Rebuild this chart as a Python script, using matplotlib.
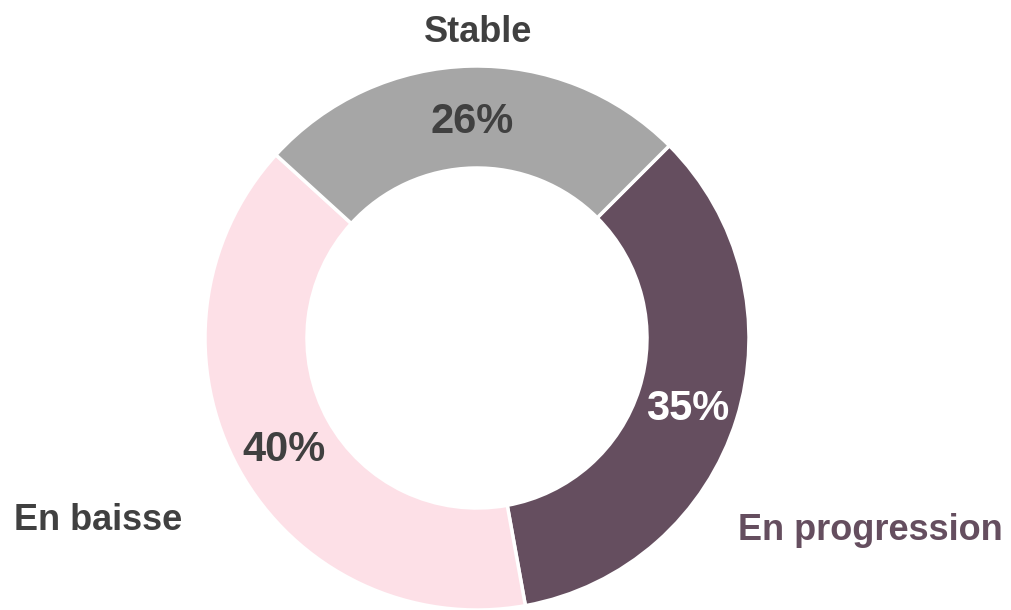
import matplotlib.pyplot as plt

# donut shares (rounded figures shown on the chart)
categories = ['En progression', 'En baisse', 'Stable']
values = [35, 40, 26]
pct_labels = ['35%', '40%', '26%']
colors = ['#654e5f', '#fde0e7', '#a6a6a6']
pct_colors = ['white', '#404040', '#404040']
name_colors = ['#654e5f', '#404040', '#404040']

plt.rcParams['font.family'] = ['Liberation Sans', 'DejaVu Sans']

fig = plt.figure(figsize=(10.12, 6.10), dpi=100)
ax = fig.add_axes([0, 0, 1, 1])

radius = 272
ring = 102
wedges, texts = ax.pie(values, labels=pct_labels, colors=colors,
                       startangle=45, counterclock=False,
                       center=(477, 272), radius=radius,
                       labeldistance=1 - ring / 2 / radius,
                       wedgeprops=dict(width=ring, edgecolor='white', linewidth=2.5))

for t, c in zip(texts, pct_colors):
    t.set_ha('center')
    t.set_va('center_baseline')
    t.set_color(c)
    t.set_fontsize(30)
    t.set_fontweight('bold')

# category names, placed outside the ring
name_pos = [(870, 83), (98, 93), (478, 582)]
for name, (x, y), c in zip(categories, name_pos, name_colors):
    ax.text(x, y, name, ha='center', va='center_baseline', fontsize=26,
            fontweight='bold', color=c)

ax.set_xlim(0, 1012)
ax.set_ylim(0, 610)
ax.set_aspect('equal')
ax.axis('off')

fig.savefig('out.png', dpi=100)
